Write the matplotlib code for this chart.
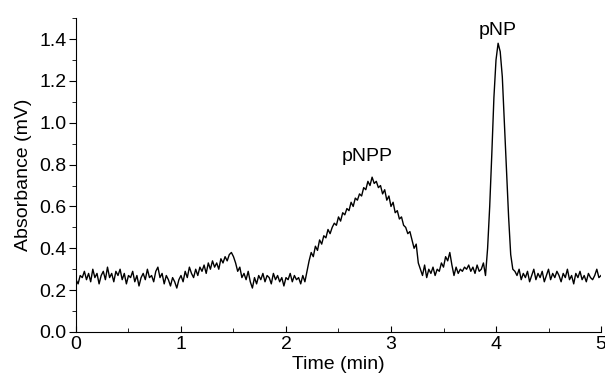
import numpy as np
import matplotlib
matplotlib.use("Agg")
from matplotlib import pyplot as plt
from matplotlib.ticker import MultipleLocator

# time axis, sampled every 0.02 min
time_min = np.arange(0, 251) * 0.02

# absorbance, 10 samples per row (0.2 min)
absorbance = [
    0.25, 0.23, 0.27, 0.26, 0.29, 0.25, 0.28, 0.24, 0.30, 0.26,
    0.28, 0.23, 0.27, 0.29, 0.25, 0.31, 0.26, 0.28, 0.24, 0.29,
    0.27, 0.30, 0.25, 0.28, 0.23, 0.27, 0.26, 0.29, 0.24, 0.27,
    0.22, 0.26, 0.28, 0.25, 0.30, 0.26, 0.27, 0.24, 0.29, 0.31,
    0.26, 0.28, 0.23, 0.27, 0.25, 0.22, 0.26, 0.24, 0.21, 0.25,
    0.27, 0.24, 0.29, 0.26, 0.31, 0.28, 0.26, 0.30, 0.27, 0.31,
    0.29, 0.32, 0.28, 0.33, 0.30, 0.34, 0.31, 0.33, 0.30, 0.35,
    0.33, 0.36, 0.34, 0.37, 0.38, 0.36, 0.33, 0.29, 0.31, 0.26,
    0.28, 0.25, 0.29, 0.24, 0.21, 0.26, 0.23, 0.27, 0.25, 0.28,
    0.24, 0.27, 0.26, 0.23, 0.28, 0.25, 0.27, 0.24, 0.26, 0.22,
    0.26, 0.25, 0.28, 0.24, 0.27, 0.25, 0.26, 0.23, 0.27, 0.24,
    0.29, 0.34, 0.38, 0.36, 0.41, 0.39, 0.44, 0.42, 0.46, 0.45,
    0.49, 0.47, 0.50, 0.52, 0.51, 0.55, 0.53, 0.57, 0.56, 0.59,
    0.58, 0.62, 0.60, 0.64, 0.63, 0.66, 0.65, 0.69, 0.68, 0.72,
    0.70, 0.74, 0.71, 0.72, 0.69, 0.70, 0.66, 0.68, 0.63, 0.65,
    0.60, 0.62, 0.57, 0.58, 0.54, 0.55, 0.51, 0.50, 0.47, 0.48,
    0.44, 0.40, 0.42, 0.33, 0.30, 0.27, 0.32, 0.26, 0.30, 0.28,
    0.31, 0.27, 0.30, 0.29, 0.33, 0.31, 0.36, 0.34, 0.38, 0.32,
    0.27, 0.31, 0.28, 0.30, 0.29, 0.31, 0.30, 0.32, 0.29, 0.31,
    0.28, 0.32, 0.29, 0.30, 0.33, 0.27, 0.40, 0.60, 0.85, 1.12,
    1.30, 1.38, 1.34, 1.22, 1.00, 0.78, 0.55, 0.37, 0.30, 0.29,
    0.27, 0.30, 0.25, 0.28, 0.26, 0.29, 0.24, 0.27, 0.30, 0.25,
    0.28, 0.26, 0.29, 0.24, 0.27, 0.30, 0.25, 0.28, 0.26, 0.29,
    0.27, 0.24, 0.28, 0.26, 0.30, 0.25, 0.27, 0.23, 0.28, 0.26,
    0.29, 0.25, 0.27, 0.24, 0.28, 0.26, 0.25, 0.27, 0.30, 0.26,
    0.27,
]

peak_labels = ["pNPP", "pNP"]
peak_pos = [(2.77, 0.80), (4.02, 1.40)]

plt.rcParams["font.family"] = ["Liberation Sans", "DejaVu Sans"]

fig = plt.figure(figsize=(6.05, 3.78), dpi=100)
ax = fig.add_axes([0.1256, 0.1217, 0.8678, 0.8303])
ax.plot(time_min, absorbance, color="black", lw=1.0)

for lab, (px, py) in zip(peak_labels, peak_pos):
    ax.text(px, py, lab, ha="center", va="bottom", fontsize=14)

ax.set_xlim(0, 5)
ax.set_ylim(0, 1.5)
ax.xaxis.set_major_locator(MultipleLocator(1))
ax.xaxis.set_minor_locator(MultipleLocator(0.5))
ax.yaxis.set_minor_locator(MultipleLocator(0.1))
ax.set_yticks(np.arange(0, 1.41, 0.2))
ax.set_yticklabels(["%.1f" % v for v in np.arange(0, 1.41, 0.2)])

for s in ["top", "right"]:
    ax.spines[s].set_visible(False)
ax.tick_params(axis="x", which="both", direction="in", labelsize=14, pad=3)
ax.tick_params(axis="x", which="major", length=4)
ax.tick_params(axis="x", which="minor", length=3)
ax.tick_params(axis="y", which="both", direction="out", labelsize=14, pad=2)
ax.tick_params(axis="y", which="major", length=5)
ax.tick_params(axis="y", which="minor", length=3)

ax.set_xlabel("Time (min)", fontsize=14, labelpad=2)
ax.set_ylabel("Absorbance (mV)", fontsize=14, labelpad=5)

fig.savefig("out.png", dpi=100)
